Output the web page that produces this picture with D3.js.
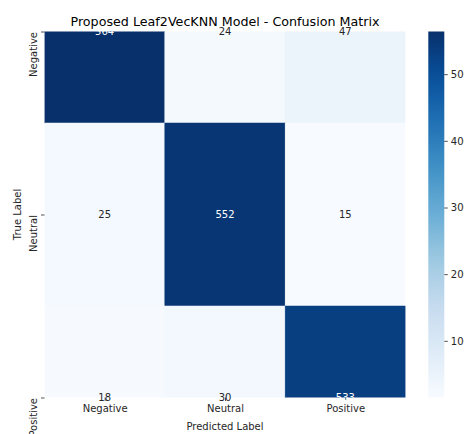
<!DOCTYPE html>
<html>
<head>
<meta charset="utf-8">
<script src="https://cdn.jsdelivr.net/npm/d3@7"></script>
<style>
  html, body { margin: 0; padding: 0; background: #fff; overflow: hidden; }
  svg { display: block; font-family: "DejaVu Sans", sans-serif; }
</style>
</head>
<body>
<svg id="chart" width="464" height="434"></svg>
<script>
// ---- data ----
const trueLabels = ["Negative", "Neutral", "Positive"];
const predLabels = ["Negative", "Neutral", "Positive"];
const rowNegative = [564, 24, 47];
const rowNeutral  = [25, 552, 15];
const rowPositive = [18, 30, 533];
const colorbarTicks = [100, 200, 300, 400, 500];
const titleText = "Proposed Leaf2VecKNN Model - Confusion Matrix";
const xAxisTitle = "Predicted Label";
const yAxisTitle = "True Label";

const matrix = [rowNegative, rowNeutral, rowPositive];
const cells = [];
matrix.forEach((row, i) => row.forEach((v, j) => cells.push({ r: i, c: j, v })));

const allVals = cells.map(d => d.v);
const vmin = d3.min(allVals), vmax = d3.max(allVals);

// matplotlib "Blues" (linear segmented)
const bluesStops = ['#f7fbff','#deebf7','#c6dbef','#9ecae1','#6baed6','#4292c6','#2171b5','#08519c','#08306b'];
const cmap = d3.scaleLinear()
  .domain(d3.range(bluesStops.length).map(k => vmin + (vmax - vmin) * k / (bluesStops.length - 1)))
  .range(bluesStops)
  .interpolate(d3.interpolateRgb)
  .clamp(true);

const svg = d3.select("#chart");
const L = 44.5, R = 405.5, T = 31.5, B = 397.5;
const textColor = "#262626";

// x: column units 0..3 ; y: row units, visible 0.5..2.5 (matplotlib heatmap clip)
const x = d3.scaleLinear().domain([0, 3]).range([L, R]);
const y = d3.scaleLinear().domain([0.5, 2.5]).range([T, B]);

svg.append("defs").append("clipPath").attr("id", "plotclip")
  .append("rect").attr("x", L).attr("y", T).attr("width", R - L).attr("height", B - T);

const plot = svg.append("g").attr("clip-path", "url(#plotclip)");
plot.selectAll("rect.cell").data(cells).join("rect")
  .attr("class", "cell")
  .attr("x", d => x(d.c))
  .attr("width", d => x(d.c + 1) - x(d.c))
  .attr("y", d => y(d.r))
  .attr("height", d => y(d.r + 1) - y(d.r))
  .attr("fill", d => cmap(d.v))
  .attr("stroke", d => cmap(d.v))
  .attr("stroke-width", 0.5);

// luminance for annotation color (seaborn rule)
function lum(c) {
  const rgb = d3.rgb(c);
  const f = v => { v /= 255; return v <= 0.03928 ? v / 12.92 : Math.pow((v + 0.055) / 1.055, 2.4); };
  return 0.2126 * f(rgb.r) + 0.7152 * f(rgb.g) + 0.0722 * f(rgb.b);
}

// axes
const xAxis = d3.axisBottom(x)
  .tickValues(predLabels.map((d, i) => i + 0.5))
  .tickFormat((d, i) => predLabels[i])
  .tickSize(3.5).tickPadding(3.5);
const gx = svg.append("g").attr("transform", `translate(0,${B})`).call(xAxis);
gx.select(".domain").remove();
gx.selectAll("line").attr("stroke", textColor).attr("stroke-width", 0.8);
gx.selectAll("text").attr("fill", textColor).attr("font-size", 10)
  .attr("font-family", "DejaVu Sans");

const yAxis = d3.axisLeft(y)
  .tickValues(trueLabels.map((d, i) => i + 0.5))
  .tickFormat((d, i) => trueLabels[i])
  .tickSize(3.5);
const gy = svg.append("g").attr("transform", `translate(${L},0)`).call(yAxis);
gy.select(".domain").remove();
gy.selectAll("line").attr("stroke", textColor).attr("stroke-width", 0.8);
gy.selectAll("text")
  .attr("fill", textColor).attr("font-size", 10).attr("font-family", "DejaVu Sans")
  .attr("x", null).attr("dy", null)
  .attr("transform", "translate(-8,0) rotate(-90)")
  .attr("text-anchor", "end")
  .attr("dominant-baseline", "auto");

// annotations (not clipped)
svg.append("g").selectAll("text").data(cells).join("text")
  .attr("x", d => x(d.c + 0.5))
  .attr("y", d => y(d.r + 0.5))
  .attr("text-anchor", "middle")
  .attr("dominant-baseline", "central")
  .attr("font-size", 10)
  .attr("fill", d => lum(cmap(d.v)) > 0.408 ? textColor : "#ffffff")
  .text(d => d.v);

// titles
svg.append("text").attr("x", (L + R) / 2).attr("y", 25.5)
  .attr("text-anchor", "middle").attr("font-size", 12.7).attr("fill", "#000")
  .text(titleText);
svg.append("text").attr("x", (L + R) / 2).attr("y", 430)
  .attr("text-anchor", "middle").attr("font-size", 10).attr("fill", textColor)
  .text(xAxisTitle);
svg.append("text").attr("transform", `translate(21,${(T + B) / 2}) rotate(-90)`)
  .attr("text-anchor", "middle").attr("font-size", 10).attr("fill", textColor)
  .text(yAxisTitle);

// colorbar
const CL = 428.3, CR = 444.3;
const cy = d3.scaleLinear().domain([vmin, vmax]).range([B, T]);
const grad = svg.select("defs").append("linearGradient").attr("id", "cbgrad")
  .attr("x1", 0).attr("y1", 1).attr("x2", 0).attr("y2", 0);
d3.range(0, 1.0001, 0.05).forEach(t => {
  grad.append("stop").attr("offset", t).attr("stop-color", cmap(vmin + t * (vmax - vmin)));
});
svg.append("rect").attr("x", CL).attr("y", T).attr("width", CR - CL).attr("height", B - T)
  .attr("fill", "url(#cbgrad)");
const cAxis = d3.axisRight(cy).tickValues(colorbarTicks).tickSize(3.5).tickPadding(3);
const gc = svg.append("g").attr("transform", `translate(${CR},0)`).call(cAxis);
gc.select(".domain").remove();
gc.selectAll("line").attr("stroke", textColor).attr("stroke-width", 0.8);
gc.selectAll("text").attr("fill", textColor).attr("font-size", 10).attr("font-family", "DejaVu Sans");
</script>
</body>
</html>
